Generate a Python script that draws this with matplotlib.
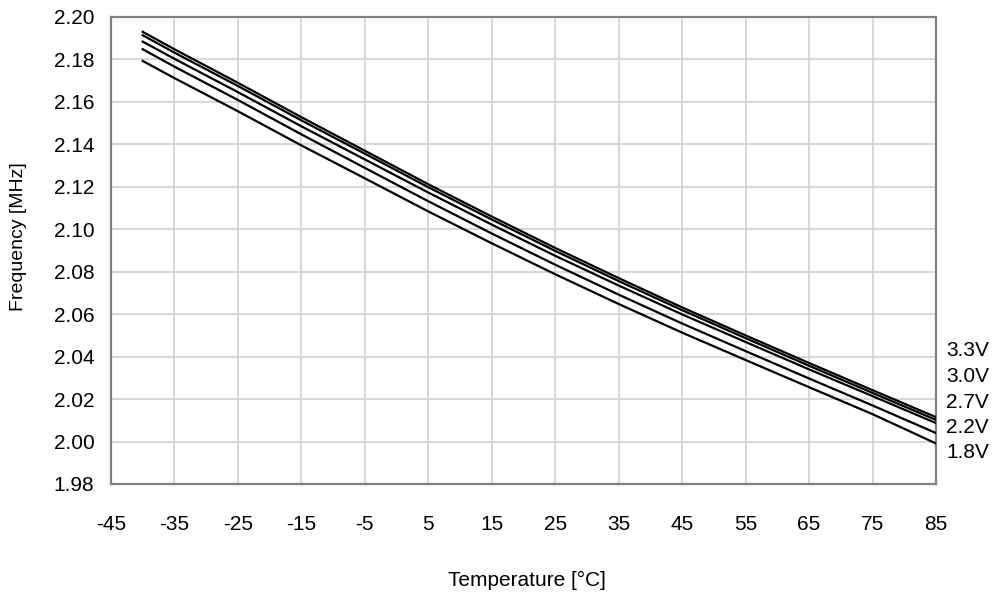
import matplotlib
matplotlib.use("Agg")
import matplotlib.pyplot as plt
from matplotlib import font_manager

names = {f.name for f in font_manager.fontManager.ttflist}
narrow = "Liberation Sans Narrow" if "Liberation Sans Narrow" in names else "Liberation Sans"
regular = "Liberation Sans"

temps = [-40, -35, -25, -15, -5, 5, 15, 25, 35, 45, 55, 65, 75, 85]
f_33 = [2.1930, 2.1848, 2.1690, 2.1528, 2.1370, 2.1212, 2.1060, 2.0912, 2.0770, 2.0632, 2.0500, 2.0370, 2.0242, 2.0115]
f_30 = [2.1914, 2.1832, 2.1675, 2.1513, 2.1356, 2.1198, 2.1046, 2.0898, 2.0756, 2.0619, 2.0487, 2.0357, 2.0229, 2.0102]
f_27 = [2.1884, 2.1803, 2.1646, 2.1485, 2.1329, 2.1173, 2.1022, 2.0875, 2.0735, 2.0599, 2.0469, 2.0340, 2.0214, 2.0087]
f_22 = [2.1848, 2.1766, 2.1609, 2.1447, 2.1289, 2.1132, 2.0980, 2.0833, 2.0692, 2.0556, 2.0426, 2.0297, 2.0170, 2.0040]
f_18 = [2.1793, 2.1712, 2.1556, 2.1395, 2.1240, 2.1084, 2.0934, 2.0788, 2.0648, 2.0513, 2.0384, 2.0256, 2.0129, 1.9991]
series = [("3.3V", f_33), ("3.0V", f_30), ("2.7V", f_27), ("2.2V", f_22), ("1.8V", f_18)]

xticks = [-45, -35, -25, -15, -5, 5, 15, 25, 35, 45, 55, 65, 75, 85]
yticks = [1.98, 2.00, 2.02, 2.04, 2.06, 2.08, 2.10, 2.12, 2.14, 2.16, 2.18, 2.20]

W, H = 994, 597
fig = plt.figure(figsize=(W / 100, H / 100), dpi=100)
ax = fig.add_axes([111 / W, 1 - 484 / H, (936 - 111) / W, (484 - 17) / H])

for name, vals in series:
    ax.plot(temps, vals, color="black", lw=1.6, zorder=3)

ax.set_xlim(-45, 85)
ax.set_ylim(1.98, 2.20)
ax.set_xticks(xticks)
ax.set_yticks(yticks)
ax.set_xticklabels([str(t) for t in xticks])
ax.set_yticklabels([f"{v:.2f}" for v in yticks])
ax.grid(True, color="#d4d4d4", lw=1.3, zorder=0)
ax.tick_params(length=0, labelsize=15, pad=12, axis="y")
ax.tick_params(length=0, labelsize=15, pad=22, axis="x")
for lab in ax.get_xticklabels() + ax.get_yticklabels():
    lab.set_fontfamily(narrow)
for sp in ax.spines.values():
    sp.set_color("#808080")
    sp.set_linewidth(1.6)

# right-side series labels
label_y = [351, 376.5, 402, 427.5, 453]
for (name, _), yp in zip(series, label_y):
    fig.text(946 / W, 1 - yp / H, name, ha="left", va="center",
             fontsize=15, fontfamily=narrow)

fig.text(19 / W, 1 - 237 / H, "Frequency [MHz]", rotation=90, ha="center",
         va="center", fontsize=14, fontfamily=regular)
fig.text((111 + 936) / 2 / W + 0.003, 1 - 580 / H, "Temperature [°C]", ha="center",
         va="center", fontsize=15, fontfamily=narrow)

fig.savefig("out.png", dpi=100)
